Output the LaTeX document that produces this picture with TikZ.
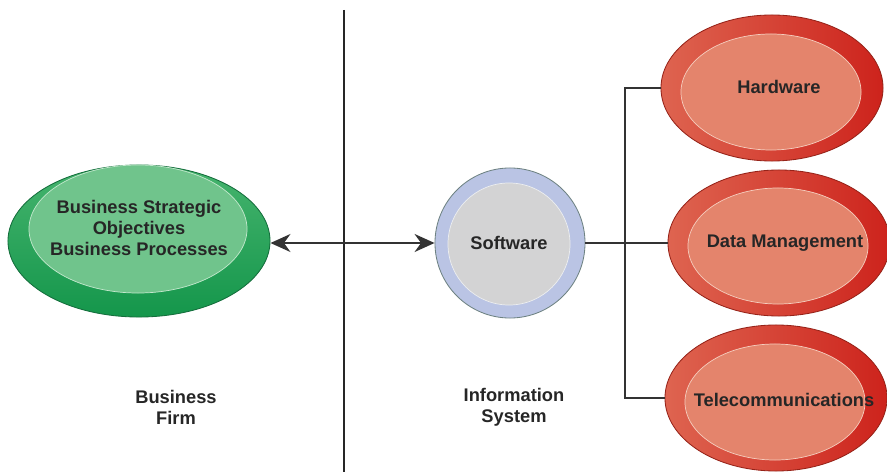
\documentclass[tikz,border=0pt]{standalone}
\usepackage{fontspec}
\setmainfont{Liberation Sans}
\usetikzlibrary{shapes.geometric,arrows.meta}

\begin{document}
\begin{tikzpicture}[x=0.025cm,y=-0.025cm,
    lbl/.style={font=\fontsize{13}{14.8}\selectfont\bfseries,align=center,text=black!85},
    link/.style={line width=1.4pt,draw=black!80},
    redrim/.style={shape=ellipse,draw=is_redEdge,line width=0.6pt,left color=is_redOuterL,right color=is_redOuterR,minimum width=5.55cm,minimum height=3.65cm,inner sep=0pt},
    redcore/.style={shape=ellipse,draw=is_redGlow,line width=0.5pt,fill=is_redInner,minimum width=4.5cm,minimum height=2.9cm,inner sep=0pt}]
    \definecolor{is_redOuterL}{RGB}{222,100,80}
    \definecolor{is_redOuterR}{RGB}{205,35,28}
    \definecolor{is_redEdge}{RGB}{150,35,25}
    \definecolor{is_redInner}{RGB}{228,132,108}
    \definecolor{is_redGlow}{RGB}{245,205,190}
    \definecolor{is_greenOuterT}{RGB}{70,180,110}
    \definecolor{is_greenOuterB}{RGB}{20,150,75}
    \definecolor{is_greenEdge}{RGB}{20,110,60}
    \definecolor{is_greenInner}{RGB}{112,196,140}
    \definecolor{is_greenGlow}{RGB}{195,232,205}
    \definecolor{is_swOuter}{RGB}{186,196,228}
    \definecolor{is_swEdge}{RGB}{110,130,130}
    \definecolor{is_swInner}{RGB}{211,211,212}
    \definecolor{is_swGlow}{RGB}{236,238,240}
    \useasboundingbox (0,0) rectangle (887,472);
    % divider between firm and system
    \coordinate (divtop) at (344,10);
    \coordinate (divbot) at (344,472);
    \draw[line width=1.4pt,black!85] (divtop) to (divbot);
    % business firm
    \node[shape=ellipse,draw=is_greenEdge,line width=0.6pt,top color=is_greenOuterT,bottom color=is_greenOuterB,minimum width=6.55cm,minimum height=3.8cm,inner sep=0pt] (firm) at (139,241) {};
    \node[shape=ellipse,draw=is_greenGlow,line width=0.5pt,fill=is_greenInner,minimum width=5.45cm,minimum height=3.2cm,inner sep=0pt] (firmcore) at (138,229) {};
    \node[lbl] (firmtxt) at (139,228) {Business Strategic\\Objectives\\Business Processes};
    % information system
    \node[shape=circle,draw=is_swEdge,line width=0.6pt,fill=is_swOuter,minimum size=3.75cm,inner sep=0pt] (sw) at (510,243) {};
    \node[shape=circle,draw=is_swGlow,line width=0.5pt,fill=is_swInner,minimum size=3.05cm,inner sep=0pt] (swcore) at (509,244) {};
    \node[lbl] (swtxt) at (509,243) {Software};
    \node[redrim] (hw) at (772,88) {};
    \node[redcore] (hwcore) at (771,92) {};
    \node[lbl] (hwtxt) at (779,87) {Hardware};
    \node[redrim] (dm) at (779,243) {};
    \node[redcore] (dmcore) at (778,246) {};
    \node[lbl] (dmtxt) at (785,243) {Data Management};
    \node[redrim] (tc) at (776,398) {};
    \node[redcore] (tccore) at (775,402) {};
    \node[lbl] (tctxt) at (784,400) {Telecommunications};
    % connectors
    \draw[link,{Stealth[length=0.5cm,width=0.45cm]}-{Stealth[length=0.5cm,width=0.45cm]}] (sw.west -| firm.east) to (sw.west);
    \coordinate (hub) at (625,243);
    \draw[link] (sw.east) to (dm.west);
    \draw[link] (hw.west) -| (hub) |- (tc.west);
    \node[lbl] (firmlbl) at (176,407) {Business\\Firm};
    \node[lbl] (islbl) at (514,407) {Information\\System};
    \end{tikzpicture}
\end{document}
